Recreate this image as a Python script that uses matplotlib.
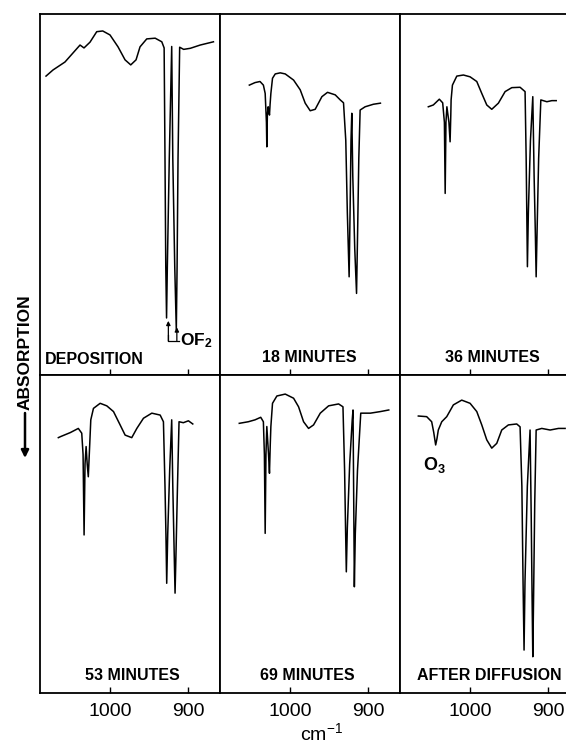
import matplotlib
matplotlib.use("Agg")
import matplotlib.pyplot as plt
from matplotlib.patches import FancyArrowPatch

plt.rcParams['mathtext.default'] = 'regular'

# ---------------- data (wavenumber cm-1, relative transmission %) ----------------
labels = ["DEPOSITION", "18 MINUTES", "36 MINUTES",
          "53 MINUTES", "69 MINUTES", "AFTER DIFFUSION"]

wn_dep = [1082.0, 1073.0, 1057.7, 1038.4, 1033.3, 1025.6, 1017.0, 1009.3, 1000.0, 989.7,
          980.7, 973.4, 966.6, 961.5, 952.9, 942.1, 933.6, 930.6, 929.5, 928.5, 927.5,
          926.5, 924.0, 920.9, 919.5, 917.0, 915.0, 914.0, 912.8, 910.7, 905.6, 897.0,
          884.4, 867.4]
t_dep = [82.8, 84.5, 86.7, 91.4, 90.6, 92.2, 95.1, 95.3, 94.2, 90.9,
         87.3, 85.9, 87.3, 90.9, 93.1, 93.3, 92.3, 90.6, 60, 30, 15.8,
         30, 60, 91.0, 60, 30, 12.5, 30, 60, 90.8, 90.2, 90.5,
         91.4, 92.3]

wn_18 = [1052.1, 1044.8, 1038.4, 1034.1, 1031.8, 1030.2, 1029.7, 1029.0, 1028.0, 1026.9,
         1026.3, 1025.5, 1024.5, 1022.4, 1018.9, 1012.5, 1006.1, 995.4, 986.9, 980.5,
         974.1, 967.7, 959.1, 951.9, 942.0, 935.6, 931.4, 928.5, 926.5, 924.2, 923.0,
         921.8, 920.8, 919.5, 917.0, 914.7, 913.3, 911.8, 910.1, 903.7, 893.1, 884.1]
t_18 = [80.3, 81.0, 81.3, 80.3, 78.0, 70, 63.2, 72, 74.3, 73,
        72.0, 75, 78.0, 82.2, 83.4, 83.7, 83.4, 81.7, 79.0, 75.3,
        73.2, 73.6, 77.1, 78.3, 77.6, 76.2, 75.4, 65, 45, 27.2, 45,
        65, 72.5, 55, 35, 22.6, 40, 60, 73.4, 74.3, 75.0, 75.3]

wn_36 = [1053.4, 1047.0, 1039.3, 1035.0, 1032.8, 1031.8, 1030.8, 1029.6, 1027.0, 1025.5,
         1024.6, 1024.2, 1022.5, 1016.9, 1008.4, 999.9, 991.3, 984.9, 978.5, 972.1,
         963.6, 955.0, 946.4, 935.8, 929.4, 928.0, 927.2, 926.4, 925.2, 922.5, 919.5,
         917.8, 916.3, 915.2, 914.0, 912.0, 909.2, 901.5, 895.1, 889.5]
t_36 = [74.3, 74.8, 76.4, 75.4, 70, 50.3, 70, 74.3, 70, 64.6,
        72, 76.2, 80.3, 82.8, 83.1, 82.6, 81.3, 78.0, 74.8, 73.6,
        75.3, 78.5, 79.6, 79.7, 78.5, 60, 45, 30.0, 45, 65, 77.1,
        55, 40, 27.2, 40, 60, 76.2, 75.7, 76.0, 76.0]

wn_53 = [1066.2, 1063.6, 1050.8, 1040.6, 1036.2, 1034.5, 1033.2, 1032.0, 1030.6, 1029.2,
         1027.8, 1026.0, 1024.6, 1021.2, 1012.6, 1004.1, 995.5, 987.0, 980.6, 972.1,
         965.6, 957.1, 946.4, 935.7, 931.5, 929.5, 928.3, 927.3, 926.0, 923.5, 920.9,
         919.5, 917.8, 916.6, 915.3, 913.5, 911.5, 906.0, 899.5, 893.9]
t_53 = [80.3, 80.6, 81.9, 83.2, 81.7, 75, 49.7, 72, 77.5, 72,
        68.0, 78, 85.9, 89.5, 91.1, 90.3, 88.5, 84.3, 81.1, 80.3,
        83.2, 86.4, 88.0, 87.4, 85.3, 65, 50, 34.5, 50, 70, 85.9,
        65, 45, 31.4, 45, 65, 85.3, 85.0, 85.6, 84.6]

wn_69 = [1065.0, 1053.4, 1044.8, 1037.5, 1034.1, 1032.8, 1031.8, 1030.8, 1029.7, 1027.5,
         1026.3, 1025.3, 1024.5, 1022.4, 1016.8, 1006.1, 995.4, 989.0, 982.6, 976.2,
         969.8, 961.2, 950.5, 937.7, 932.1, 930.0, 928.8, 927.8, 926.5, 923.5, 920.2,
         919.2, 918.3, 917.5, 916.3, 913.5, 909.3, 896.9, 884.1, 873.4]
t_69 = [84.8, 85.3, 85.9, 86.7, 85.3, 75, 50.2, 75, 83.8, 75,
        69.1, 78, 83.8, 91.1, 93.4, 94.0, 92.7, 90.0, 85.3, 83.2,
        84.3, 88.0, 90.3, 90.9, 90.0, 70, 52, 38.1, 52, 72, 86,
        89.0, 60, 33.4, 50, 70, 88.0, 88.0, 88.5, 89.0]

wn_diff = [1066.2, 1055.5, 1049.1, 1046.5, 1044.0, 1042.3, 1040.6, 1036.2, 1029.8, 1021.3,
           1010.6, 999.9, 991.3, 984.9, 978.5, 972.1, 965.7, 959.3, 950.8, 940.1,
           935.8, 933.5, 932.0, 930.7, 929.5, 926.5, 923.0, 921.5, 920.4, 919.5,
           918.5, 917.0, 915.2, 908.0, 897.3, 886.6, 878.1]
t_diff = [87.1, 86.9, 85.3, 82, 78.0, 80, 82.7, 85.3, 86.9, 90.6,
          92.1, 91.1, 88.5, 84.3, 79.6, 77.0, 78.5, 82.7, 84.3, 84.6,
          83.7, 65, 35, 13.5, 35, 65, 82.7, 55, 30, 11.4,
          30, 60, 82.7, 83.2, 82.7, 83.2, 83.2]

spectra = [(wn_dep, t_dep), (wn_18, t_18), (wn_36, t_36),
           (wn_53, t_53), (wn_69, t_69), (wn_diff, t_diff)]

tick_vals = [1000, 900]
tick_labels = ["1000", "900"]

# ---------------- layout ----------------
W, H = 566, 743
fig = plt.figure(figsize=(W / 100, H / 100), dpi=100)

col_left = [40, 220, 400]
col_w = 180
rows = [(14, 375), (375, 693)]   # (top, bottom) in pixels

lab_font = ['Liberation Sans Narrow', 'Liberation Sans', 'DejaVu Sans']
lab_pos = [(45, 360, 'left'), (309, 358, 'center'), (492, 358, 'center'),
           (132, 675, 'center'), (307, 675, 'center'), (489, 675, 'center')]

axes = []
for i, (wn, tt) in enumerate(spectra):
    r, c = divmod(i, 3)
    top, bot = rows[r]
    ax = fig.add_axes([col_left[c] / W, 1 - bot / H, col_w / W, (bot - top) / H])
    ax.plot(wn, tt, color='black', lw=1.1, solid_joinstyle='round')
    ax.set_xlim(1089.7, 859.0)
    ax.set_ylim(0, 100)
    ax.set_yticks([])
    ax.set_xticks(tick_vals)
    ax.tick_params(axis='x', direction='in', length=4, width=1, pad=7,
                   labelsize=14, labelbottom=(r == 1))
    if r == 1:
        ax.set_xticklabels(tick_labels, family=['Liberation Sans', 'DejaVu Sans'])
    for s in ax.spines.values():
        s.set_linewidth(1.3)
    axes.append(ax)
    x, y, ha = lab_pos[i]
    fig.text(x / W, 1 - y / H, labels[i], ha=ha, va='center', fontsize=11.5,
             fontweight='bold', family=lab_font)

# OF2 annotation in deposition panel
ax0 = axes[0]
ax0.annotate('', xy=(925.2, 15.0), xytext=(925.2, 9.4),
             arrowprops=dict(arrowstyle='-|>', lw=0.9, color='black', mutation_scale=6,
                             shrinkA=0, shrinkB=0))
ax0.annotate('', xy=(914.3, 13.2), xytext=(914.3, 9.4),
             arrowprops=dict(arrowstyle='-|>', lw=0.9, color='black', mutation_scale=6,
                             shrinkA=0, shrinkB=0))
ax0.plot([925.2, 925.2, 911.5], [11.0, 9.4, 9.4], color='black', lw=0.9)
ax0.text(910.5, 9.4, 'OF$_2$', ha='left', va='center', fontsize=12.5,
         fontweight='bold', family=lab_font)

# O3 label in after-diffusion panel
fig.text(423 / W, 1 - 465 / H, 'O$_3$', ha='left', va='center', fontsize=13,
         fontweight='bold', family=lab_font)

# y label with arrow
fig.text(25 / W, 1 - 352 / H, 'ABSORPTION', rotation=90, ha='center', va='center',
         fontsize=12.5, fontweight='bold', family=lab_font)
fig.add_artist(FancyArrowPatch((25 / W, 1 - 413 / H), (25 / W, 1 - 458 / H),
                               transform=fig.transFigure, arrowstyle='-|>',
                               mutation_scale=11, lw=1.8, color='black',
                               shrinkA=0, shrinkB=0))

# x unit
fig.text(322 / W, 1 - 733 / H, 'cm$^{-1}$', ha='center', va='center', fontsize=14,
         family=['Liberation Sans', 'DejaVu Sans'])

fig.savefig('out.png', dpi=100)
